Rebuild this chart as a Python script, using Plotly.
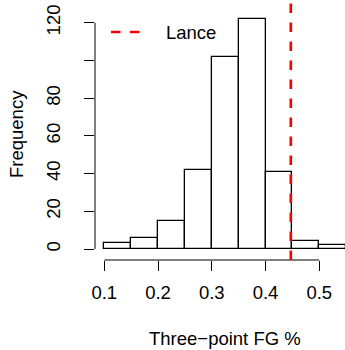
import plotly.graph_objects as go

# ---- data ----
bin_starts = [0.10, 0.15, 0.20, 0.25, 0.30, 0.35, 0.40, 0.45, 0.50]
bin_width = 0.05
counts = [3, 6, 15, 42, 102, 122, 41, 4, 2]
lance_value = 0.447
x_ticks = [0.1, 0.2, 0.3, 0.4, 0.5]
x_tick_labels = ["0.1", "0.2", "0.3", "0.4", "0.5"]
y_ticks = [0, 20, 40, 60, 80, 100, 120]
y_tick_labels = ["0", "20", "40", "60", "80", "", "120"]
legend_label = "Lance"
x_title = "Three\u2212point FG %"
y_title = "Frequency"

W, H = 345, 350
ML, MR, MT, MB = 95, 0, 0, 90
FONT = "Liberation Sans, Arial, sans-serif"
FS = 18.5

fig = go.Figure()
fig.add_trace(go.Bar(
    x=bin_starts, y=counts, width=bin_width, offset=0,
    marker=dict(color="rgba(0,0,0,0)", line=dict(color="black", width=1.3)),
    showlegend=False, hoverinfo="skip",
))

xr = [0.0827, 0.0827 + (W - ML - MR) / 537.5]
yr = [-5.83, 132.04]

fig.update_layout(
    width=W, height=H,
    margin=dict(l=ML, r=MR, t=MT, b=MB, pad=0),
    paper_bgcolor="white", plot_bgcolor="white",
    font=dict(family=FONT, size=FS, color="black"),
    showlegend=False,
    bargap=0,
    xaxis=dict(range=xr, showgrid=False, zeroline=False, showline=False,
               tickmode="array", tickvals=x_ticks, ticktext=x_tick_labels,
               ticks="outside", ticklen=10, tickwidth=1, tickcolor="black",
               ticklabelstandoff=6),
    yaxis=dict(range=yr, showgrid=False, zeroline=False, showline=False,
               tickmode="array", tickvals=y_ticks, ticktext=y_tick_labels,
               ticks="outside", ticklen=10, tickwidth=1, tickcolor="black",
               tickangle=-90, ticklabelstandoff=17),
)

# R-style axis lines
fig.add_shape(type="line", xref="x", yref="paper", x0=x_ticks[0], x1=x_ticks[-1],
              y0=0, y1=0, line=dict(color="black", width=1))
fig.add_shape(type="line", xref="paper", yref="y", x0=0, x1=0,
              y0=y_ticks[0], y1=y_ticks[-1], line=dict(color="black", width=1))

# Lance line
fig.add_shape(type="line", xref="x", yref="paper", x0=lance_value, x1=lance_value,
              y0=0, y1=1, line=dict(color="red", width=2.7, dash="9.5px,9.5px"))

# legend (manual, like R legend with bty='n')
def px_x(p):
    return (p - ML) / (W - ML - MR)

def px_y(p):
    return 1 - (p - MT) / (H - MT - MB)

fig.add_shape(type="line", xref="paper", yref="paper",
              x0=px_x(111), x1=px_x(140), y0=px_y(32), y1=px_y(32),
              line=dict(color="red", width=2.7, dash="9.5px,9.5px"))
fig.add_annotation(text=legend_label, xref="paper", yref="paper",
                   x=px_x(164), y=px_y(32), xanchor="left", yanchor="middle",
                   showarrow=False, font=dict(size=FS))

# axis titles
fig.add_annotation(text=x_title, xref="paper", yref="paper",
                   x=px_x(225), y=px_y(338), xanchor="center", yanchor="middle",
                   showarrow=False, font=dict(size=FS))
fig.add_annotation(text=y_title, xref="paper", yref="paper",
                   x=px_x(16), y=px_y(134), xanchor="center", yanchor="middle",
                   textangle=-90, showarrow=False, font=dict(size=FS))

fig.write_html("out.html")
